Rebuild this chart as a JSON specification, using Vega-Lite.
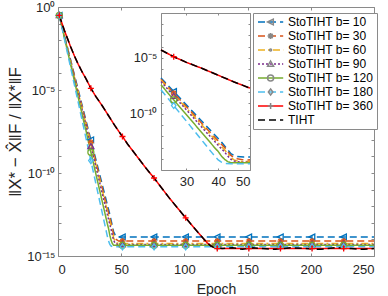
{
"$schema":"https://vega.github.io/schema/vega-lite/v6.json",
"width":316,"height":249,
"autosize":{"type":"none"},
"padding":{"left":58,"top":7,"right":14,"bottom":40},
"background":"white",
"config":{
 "font":"Liberation Sans",
 "view":{"stroke":"#8a8a8a","strokeWidth":1},
 "axis":{"grid":false,"labelFont":"Liberation Sans","titleFont":"Liberation Sans","labelFontSize":12.5,"titleFontSize":14,"titleFontWeight":"normal","labelColor":"#262626","titleColor":"#262626","tickColor":"#8a8a8a","domainColor":"#8a8a8a","tickSize":-3,"domain":false,"labelOverlap":false}
},
"datasets":{"d":[
{"series":"StoTIHT b= 10","epoch":1,"err":3.162e-1},{"series":"StoTIHT b= 10","epoch":6,"err":1e-2},{"series":"StoTIHT b= 10","epoch":11,"err":3.162e-4},{"series":"StoTIHT b= 10","epoch":16,"err":1e-5},{"series":"StoTIHT b= 10","epoch":21,"err":3.162e-7},{"series":"StoTIHT b= 10","epoch":22,"err":1.585e-7},{"series":"StoTIHT b= 10","epoch":26,"err":1e-8},{"series":"StoTIHT b= 10","epoch":31,"err":3.162e-10},{"series":"StoTIHT b= 10","epoch":36,"err":1e-11},{"series":"StoTIHT b= 10","epoch":40,"err":6.310e-13},{"series":"StoTIHT b= 10","epoch":41,"err":3.162e-13},{"series":"StoTIHT b= 10","epoch":43,"err":6.310e-14},{"series":"StoTIHT b= 10","epoch":44,"err":2.818e-14},{"series":"StoTIHT b= 10","epoch":45,"err":1.995e-14},{"series":"StoTIHT b= 10","epoch":46,"err":1.585e-14},{"series":"StoTIHT b= 10","epoch":48,"err":1.413e-14},{"series":"StoTIHT b= 10","epoch":50,"err":1.413e-14},{"series":"StoTIHT b= 10","epoch":51,"err":1.413e-14},{"series":"StoTIHT b= 10","epoch":76,"err":1.413e-14},{"series":"StoTIHT b= 10","epoch":101,"err":1.413e-14},{"series":"StoTIHT b= 10","epoch":126,"err":1.413e-14},{"series":"StoTIHT b= 10","epoch":151,"err":1.413e-14},{"series":"StoTIHT b= 10","epoch":176,"err":1.413e-14},{"series":"StoTIHT b= 10","epoch":201,"err":1.413e-14},{"series":"StoTIHT b= 10","epoch":226,"err":1.413e-14},{"series":"StoTIHT b= 10","epoch":250,"err":1.413e-14},
{"series":"StoTIHT b= 30","epoch":1,"err":3.162e-1},{"series":"StoTIHT b= 30","epoch":6,"err":8.913e-3},{"series":"StoTIHT b= 30","epoch":11,"err":2.818e-4},{"series":"StoTIHT b= 30","epoch":16,"err":7.943e-6},{"series":"StoTIHT b= 30","epoch":21,"err":2.512e-7},{"series":"StoTIHT b= 30","epoch":22,"err":1.259e-7},{"series":"StoTIHT b= 30","epoch":26,"err":7.079e-9},{"series":"StoTIHT b= 30","epoch":31,"err":2.239e-10},{"series":"StoTIHT b= 30","epoch":36,"err":6.310e-12},{"series":"StoTIHT b= 30","epoch":40,"err":3.981e-13},{"series":"StoTIHT b= 30","epoch":42,"err":1e-13},{"series":"StoTIHT b= 30","epoch":43,"err":4.467e-14},{"series":"StoTIHT b= 30","epoch":44,"err":1.995e-14},{"series":"StoTIHT b= 30","epoch":45,"err":1.259e-14},{"series":"StoTIHT b= 30","epoch":46,"err":1e-14},{"series":"StoTIHT b= 30","epoch":48,"err":7.943e-15},{"series":"StoTIHT b= 30","epoch":50,"err":7.943e-15},{"series":"StoTIHT b= 30","epoch":51,"err":7.943e-15},{"series":"StoTIHT b= 30","epoch":76,"err":7.943e-15},{"series":"StoTIHT b= 30","epoch":101,"err":7.943e-15},{"series":"StoTIHT b= 30","epoch":126,"err":7.943e-15},{"series":"StoTIHT b= 30","epoch":151,"err":7.943e-15},{"series":"StoTIHT b= 30","epoch":176,"err":7.943e-15},{"series":"StoTIHT b= 30","epoch":201,"err":7.943e-15},{"series":"StoTIHT b= 30","epoch":226,"err":7.943e-15},{"series":"StoTIHT b= 30","epoch":250,"err":7.943e-15},
{"series":"StoTIHT b= 60","epoch":1,"err":3.162e-1},{"series":"StoTIHT b= 60","epoch":6,"err":8.913e-3},{"series":"StoTIHT b= 60","epoch":11,"err":2.512e-4},{"series":"StoTIHT b= 60","epoch":16,"err":7.079e-6},{"series":"StoTIHT b= 60","epoch":21,"err":1.995e-7},{"series":"StoTIHT b= 60","epoch":22,"err":1e-7},{"series":"StoTIHT b= 60","epoch":26,"err":5.623e-9},{"series":"StoTIHT b= 60","epoch":31,"err":1.585e-10},{"series":"StoTIHT b= 60","epoch":36,"err":4.467e-12},{"series":"StoTIHT b= 60","epoch":40,"err":2.512e-13},{"series":"StoTIHT b= 60","epoch":42,"err":6.310e-14},{"series":"StoTIHT b= 60","epoch":43,"err":2.818e-14},{"series":"StoTIHT b= 60","epoch":44,"err":1.259e-14},{"series":"StoTIHT b= 60","epoch":45,"err":7.943e-15},{"series":"StoTIHT b= 60","epoch":46,"err":6.310e-15},{"series":"StoTIHT b= 60","epoch":48,"err":5.623e-15},{"series":"StoTIHT b= 60","epoch":50,"err":5.623e-15},{"series":"StoTIHT b= 60","epoch":51,"err":5.623e-15},{"series":"StoTIHT b= 60","epoch":76,"err":5.623e-15},{"series":"StoTIHT b= 60","epoch":101,"err":5.623e-15},{"series":"StoTIHT b= 60","epoch":126,"err":5.623e-15},{"series":"StoTIHT b= 60","epoch":151,"err":5.623e-15},{"series":"StoTIHT b= 60","epoch":176,"err":5.623e-15},{"series":"StoTIHT b= 60","epoch":201,"err":5.623e-15},{"series":"StoTIHT b= 60","epoch":226,"err":5.623e-15},{"series":"StoTIHT b= 60","epoch":250,"err":5.623e-15},
{"series":"StoTIHT b= 90","epoch":1,"err":3.162e-1},{"series":"StoTIHT b= 90","epoch":6,"err":7.943e-3},{"series":"StoTIHT b= 90","epoch":11,"err":2.239e-4},{"series":"StoTIHT b= 90","epoch":16,"err":5.623e-6},{"series":"StoTIHT b= 90","epoch":21,"err":1.585e-7},{"series":"StoTIHT b= 90","epoch":22,"err":7.943e-8},{"series":"StoTIHT b= 90","epoch":26,"err":3.981e-9},{"series":"StoTIHT b= 90","epoch":31,"err":1.122e-10},{"series":"StoTIHT b= 90","epoch":36,"err":2.818e-12},{"series":"StoTIHT b= 90","epoch":40,"err":1.585e-13},{"series":"StoTIHT b= 90","epoch":41,"err":7.943e-14},{"series":"StoTIHT b= 90","epoch":42,"err":3.981e-14},{"series":"StoTIHT b= 90","epoch":43,"err":1.778e-14},{"series":"StoTIHT b= 90","epoch":44,"err":8.913e-15},{"series":"StoTIHT b= 90","epoch":45,"err":6.310e-15},{"series":"StoTIHT b= 90","epoch":47,"err":5.012e-15},{"series":"StoTIHT b= 90","epoch":50,"err":5.012e-15},{"series":"StoTIHT b= 90","epoch":51,"err":5.012e-15},{"series":"StoTIHT b= 90","epoch":76,"err":5.012e-15},{"series":"StoTIHT b= 90","epoch":101,"err":5.012e-15},{"series":"StoTIHT b= 90","epoch":126,"err":5.012e-15},{"series":"StoTIHT b= 90","epoch":151,"err":5.012e-15},{"series":"StoTIHT b= 90","epoch":176,"err":5.012e-15},{"series":"StoTIHT b= 90","epoch":201,"err":5.012e-15},{"series":"StoTIHT b= 90","epoch":226,"err":5.012e-15},{"series":"StoTIHT b= 90","epoch":250,"err":5.012e-15},
{"series":"StoTIHT b= 120","epoch":1,"err":3.162e-1},{"series":"StoTIHT b= 120","epoch":6,"err":7.079e-3},{"series":"StoTIHT b= 120","epoch":11,"err":1.585e-4},{"series":"StoTIHT b= 120","epoch":16,"err":3.548e-6},{"series":"StoTIHT b= 120","epoch":21,"err":7.943e-8},{"series":"StoTIHT b= 120","epoch":22,"err":3.981e-8},{"series":"StoTIHT b= 120","epoch":26,"err":1.778e-9},{"series":"StoTIHT b= 120","epoch":31,"err":3.981e-11},{"series":"StoTIHT b= 120","epoch":36,"err":8.913e-13},{"series":"StoTIHT b= 120","epoch":39,"err":8.913e-14},{"series":"StoTIHT b= 120","epoch":40,"err":4.467e-14},{"series":"StoTIHT b= 120","epoch":41,"err":1.778e-14},{"series":"StoTIHT b= 120","epoch":42,"err":8.913e-15},{"series":"StoTIHT b= 120","epoch":43,"err":5.623e-15},{"series":"StoTIHT b= 120","epoch":44,"err":4.467e-15},{"series":"StoTIHT b= 120","epoch":50,"err":4.467e-15},{"series":"StoTIHT b= 120","epoch":51,"err":4.467e-15},{"series":"StoTIHT b= 120","epoch":76,"err":4.467e-15},{"series":"StoTIHT b= 120","epoch":101,"err":4.467e-15},{"series":"StoTIHT b= 120","epoch":126,"err":4.467e-15},{"series":"StoTIHT b= 120","epoch":151,"err":4.467e-15},{"series":"StoTIHT b= 120","epoch":176,"err":4.467e-15},{"series":"StoTIHT b= 120","epoch":201,"err":4.467e-15},{"series":"StoTIHT b= 120","epoch":226,"err":4.467e-15},{"series":"StoTIHT b= 120","epoch":250,"err":4.467e-15},
{"series":"StoTIHT b= 180","epoch":1,"err":3.162e-1},{"series":"StoTIHT b= 180","epoch":6,"err":5.623e-3},{"series":"StoTIHT b= 180","epoch":11,"err":1e-4},{"series":"StoTIHT b= 180","epoch":16,"err":1.778e-6},{"series":"StoTIHT b= 180","epoch":21,"err":3.162e-8},{"series":"StoTIHT b= 180","epoch":22,"err":1.413e-8},{"series":"StoTIHT b= 180","epoch":26,"err":5.623e-10},{"series":"StoTIHT b= 180","epoch":31,"err":1e-11},{"series":"StoTIHT b= 180","epoch":35,"err":3.981e-13},{"series":"StoTIHT b= 180","epoch":37,"err":7.943e-14},{"series":"StoTIHT b= 180","epoch":38,"err":3.548e-14},{"series":"StoTIHT b= 180","epoch":39,"err":1.585e-14},{"series":"StoTIHT b= 180","epoch":40,"err":7.943e-15},{"series":"StoTIHT b= 180","epoch":41,"err":5.012e-15},{"series":"StoTIHT b= 180","epoch":42,"err":3.981e-15},{"series":"StoTIHT b= 180","epoch":44,"err":3.548e-15},{"series":"StoTIHT b= 180","epoch":50,"err":3.548e-15},{"series":"StoTIHT b= 180","epoch":51,"err":3.548e-15},{"series":"StoTIHT b= 180","epoch":76,"err":3.548e-15},{"series":"StoTIHT b= 180","epoch":101,"err":3.548e-15},{"series":"StoTIHT b= 180","epoch":126,"err":3.548e-15},{"series":"StoTIHT b= 180","epoch":151,"err":3.548e-15},{"series":"StoTIHT b= 180","epoch":176,"err":3.548e-15},{"series":"StoTIHT b= 180","epoch":201,"err":3.548e-15},{"series":"StoTIHT b= 180","epoch":226,"err":3.548e-15},{"series":"StoTIHT b= 180","epoch":250,"err":3.548e-15},
{"series":"StoTIHT b= 360","epoch":1,"err":3.162e-1},{"series":"StoTIHT b= 360","epoch":3,"err":1.122e-1},{"series":"StoTIHT b= 360","epoch":5,"err":3.981e-2},{"series":"StoTIHT b= 360","epoch":7,"err":1.585e-2},{"series":"StoTIHT b= 360","epoch":10,"err":3.981e-3},{"series":"StoTIHT b= 360","epoch":13,"err":1.122e-3},{"series":"StoTIHT b= 360","epoch":16,"err":3.548e-4},{"series":"StoTIHT b= 360","epoch":19,"err":1.259e-4},{"series":"StoTIHT b= 360","epoch":22,"err":5.012e-5},{"series":"StoTIHT b= 360","epoch":26,"err":1.259e-5},{"series":"StoTIHT b= 360","epoch":30,"err":3.981e-6},{"series":"StoTIHT b= 360","epoch":35,"err":1.122e-6},{"series":"StoTIHT b= 360","epoch":40,"err":2.818e-7},{"series":"StoTIHT b= 360","epoch":45,"err":7.079e-8},{"series":"StoTIHT b= 360","epoch":50,"err":1.995e-8},{"series":"StoTIHT b= 360","epoch":51,"err":1.585e-8},{"series":"StoTIHT b= 360","epoch":55,"err":5.623e-9},{"series":"StoTIHT b= 360","epoch":60,"err":1.778e-9},{"series":"StoTIHT b= 360","epoch":65,"err":5.623e-10},{"series":"StoTIHT b= 360","epoch":70,"err":1.778e-10},{"series":"StoTIHT b= 360","epoch":76,"err":5.012e-11},{"series":"StoTIHT b= 360","epoch":82,"err":1.259e-11},{"series":"StoTIHT b= 360","epoch":88,"err":3.162e-12},{"series":"StoTIHT b= 360","epoch":95,"err":7.079e-13},{"series":"StoTIHT b= 360","epoch":101,"err":1.995e-13},{"series":"StoTIHT b= 360","epoch":106,"err":7.079e-14},{"series":"StoTIHT b= 360","epoch":111,"err":2.512e-14},{"series":"StoTIHT b= 360","epoch":115,"err":1.122e-14},{"series":"StoTIHT b= 360","epoch":118,"err":6.310e-15},{"series":"StoTIHT b= 360","epoch":121,"err":3.981e-15},{"series":"StoTIHT b= 360","epoch":124,"err":3.162e-15},{"series":"StoTIHT b= 360","epoch":126,"err":2.818e-15},{"series":"StoTIHT b= 360","epoch":151,"err":2.818e-15},{"series":"StoTIHT b= 360","epoch":176,"err":2.818e-15},{"series":"StoTIHT b= 360","epoch":201,"err":2.818e-15},{"series":"StoTIHT b= 360","epoch":226,"err":2.818e-15},{"series":"StoTIHT b= 360","epoch":250,"err":2.818e-15},
{"series":"TIHT","epoch":1,"err":3.162e-1},{"series":"TIHT","epoch":3,"err":1.122e-1},{"series":"TIHT","epoch":5,"err":3.981e-2},{"series":"TIHT","epoch":7,"err":1.585e-2},{"series":"TIHT","epoch":10,"err":3.981e-3},{"series":"TIHT","epoch":13,"err":1.122e-3},{"series":"TIHT","epoch":16,"err":3.548e-4},{"series":"TIHT","epoch":19,"err":1.259e-4},{"series":"TIHT","epoch":22,"err":5.012e-5},{"series":"TIHT","epoch":26,"err":1.259e-5},{"series":"TIHT","epoch":30,"err":3.981e-6},{"series":"TIHT","epoch":35,"err":1.122e-6},{"series":"TIHT","epoch":40,"err":2.818e-7},{"series":"TIHT","epoch":45,"err":7.079e-8},{"series":"TIHT","epoch":50,"err":1.995e-8},{"series":"TIHT","epoch":55,"err":5.623e-9},{"series":"TIHT","epoch":60,"err":1.778e-9},{"series":"TIHT","epoch":65,"err":5.623e-10},{"series":"TIHT","epoch":70,"err":1.778e-10},{"series":"TIHT","epoch":76,"err":5.012e-11},{"series":"TIHT","epoch":82,"err":1.259e-11},{"series":"TIHT","epoch":88,"err":3.162e-12},{"series":"TIHT","epoch":95,"err":7.079e-13},{"series":"TIHT","epoch":101,"err":1.995e-13},{"series":"TIHT","epoch":106,"err":7.079e-14},{"series":"TIHT","epoch":111,"err":2.512e-14},{"series":"TIHT","epoch":115,"err":1.122e-14},{"series":"TIHT","epoch":118,"err":6.310e-15},{"series":"TIHT","epoch":121,"err":3.981e-15},{"series":"TIHT","epoch":124,"err":3.162e-15},{"series":"TIHT","epoch":130,"err":2.818e-15},{"series":"TIHT","epoch":138,"err":3.162e-15},{"series":"TIHT","epoch":146,"err":2.512e-15},{"series":"TIHT","epoch":154,"err":3.162e-15},{"series":"TIHT","epoch":162,"err":2.818e-15},{"series":"TIHT","epoch":172,"err":2.512e-15},{"series":"TIHT","epoch":184,"err":3.162e-15},{"series":"TIHT","epoch":196,"err":2.818e-15},{"series":"TIHT","epoch":208,"err":2.512e-15},{"series":"TIHT","epoch":220,"err":3.162e-15},{"series":"TIHT","epoch":232,"err":2.818e-15},{"series":"TIHT","epoch":242,"err":2.512e-15},{"series":"TIHT","epoch":250,"err":2.818e-15}
]},
"data":{"name":"d"},
"layer":[
 {
  "layer":[
   {"transform":[{"filter":"datum.series != 'TIHT'"}],
    "mark":{"type":"line","strokeWidth":1.5},
    "encoding":{
     "x":{"field":"epoch","type":"quantitative","scale":{"domain":[0,250],"nice":false,"zero":false},
          "axis":{"orient":"bottom","values":[0,50,100,150,200,250],"title":"Epoch","labelPadding":10,"titlePadding":6,"titleFontSize":14,"labelFontSize":13}},
     "y":{"field":"err","type":"quantitative","scale":{"type":"log","domain":[1e-15,1],"nice":false},
          "axis":{"orient":"left","values":[1e-15,1e-14,1e-13,1e-12,1e-11,1e-10,1e-9,1e-8,1e-7,1e-6,1e-5,1e-4,1e-3,1e-2,1e-1,1],
                  "labelExpr":"round(log(datum.value)/LN10) == 0 ? '10⁰' : round(log(datum.value)/LN10) == -5 ? '10⁻⁵' : round(log(datum.value)/LN10) == -10 ? '10⁻¹⁰' : round(log(datum.value)/LN10) == -15 ? '10⁻¹⁵' : ''",
                  "title":"‖X* − X̂‖F / ‖X*‖F","titleFontSize":17,"labelPadding":6,"titlePadding":2,"labelFontSize":13}},
     "color":{"field":"series","type":"nominal",
       "scale":{"domain":["StoTIHT b= 10","StoTIHT b= 30","StoTIHT b= 60","StoTIHT b= 90","StoTIHT b= 120","StoTIHT b= 180","StoTIHT b= 360","TIHT"],
                "range":["#0072BD","#D95319","#EDB120","#7E2F8E","#77AC30","#4DBEEE","#FF0000","#000000"]},
       "legend":{"title":null,"orient":"none","legendX":195,"legendY":6,"symbolType":"M-4.2,0L4.2,0","symbolSize":36,"symbolStrokeWidth":1.5,"symbolFillColor":"transparent","labelFontSize":12,"labelFont":"Liberation Sans","labelColor":"#000000","padding":3,"rowPadding":2,"symbolOffset":8.6,"labelOffset":11.4,"strokeColor":"#8a8a8a","fillColor":"white","labelLimit":200}},
     "strokeDash":{"field":"series","type":"nominal",
       "scale":{"domain":["StoTIHT b= 10","StoTIHT b= 30","StoTIHT b= 60","StoTIHT b= 90","StoTIHT b= 120","StoTIHT b= 180","StoTIHT b= 360","TIHT"],
                "range":[[7,4],[7,4],[7,3,2,3],[2,2],[1,0],[7,4],[1,0],[7,4]]},
       "legend":{"title":null,"orient":"none","legendX":195,"legendY":6,"symbolType":"M-4.2,0L4.2,0","symbolSize":36,"symbolStrokeWidth":1.5,"symbolFillColor":"transparent","labelFontSize":12,"labelFont":"Liberation Sans","labelColor":"#000000","padding":3,"rowPadding":2,"symbolOffset":8.6,"labelOffset":11.4,"strokeColor":"#8a8a8a","fillColor":"white","labelLimit":200}}
    }},
   {"transform":[{"filter":"datum.series == 'TIHT'"}],
    "mark":{"type":"line","strokeWidth":1.5},
    "encoding":{
     "x":{"field":"epoch","type":"quantitative","axis":{"orient":"top","values":[0,50,100,150,200,250],"labels":false,"title":null}},
     "y":{"field":"err","type":"quantitative","axis":{"orient":"right","values":[1e-15,1e-14,1e-13,1e-12,1e-11,1e-10,1e-9,1e-8,1e-7,1e-6,1e-5,1e-4,1e-3,1e-2,1e-1,1],"labels":false,"title":null}},
     "color":{"field":"series","type":"nominal"},
     "strokeDash":{"field":"series","type":"nominal"}
    }},
   {"transform":[{"filter":"datum.series != 'TIHT' && (datum.epoch - 1) % 25 == 0"}],
    "mark":{"type":"point","filled":false,"strokeWidth":1.3,"size":36,"opacity":1},
    "encoding":{
     "x":{"field":"epoch","type":"quantitative","axis":null},
     "y":{"field":"err","type":"quantitative","axis":null},
     "color":{"field":"series","type":"nominal"},
     "shape":{"field":"series","type":"nominal",
       "scale":{"domain":["StoTIHT b= 10","StoTIHT b= 30","StoTIHT b= 60","StoTIHT b= 90","StoTIHT b= 120","StoTIHT b= 180","StoTIHT b= 360"],
                "range":["M-1,0L0.9,-0.95L0.9,0.95Z","M-1,0L1,0M0,-1L0,1M-0.7,-0.7L0.7,0.7M-0.7,0.7L0.7,-0.7","M-0.35,0A0.35,0.35,0,1,0,0.35,0A0.35,0.35,0,1,0,-0.35,0Z","M0,-1L1,0.75L-1,0.75Z","circle","M0,-1L0.75,0L0,1L-0.75,0Z","M-1,0L1,0M0,-1L0,1"]},
       "legend":{"title":null,"orient":"none","legendX":195,"legendY":6,"symbolSize":36,"symbolStrokeWidth":1.5,"symbolFillColor":"transparent","labelFontSize":12,"labelFont":"Liberation Sans","labelOpacity":0,"padding":3,"rowPadding":2,"symbolOffset":8.6,"labelOffset":11.4,"labelLimit":200,
                 "encode":{"symbols":{"update":{"stroke":{"scale":"color","field":"value"}}}}}}
    }}
  ],
  "resolve":{"axis":{"x":"independent","y":"independent"}}
 },
 {
  "transform":[{"filter":"datum.epoch >= 22 && datum.epoch <= 50"}],
  "layer":[
   {"transform":[{"filter":"datum.series != 'TIHT'"}],
    "mark":{"type":"line","strokeWidth":1.5},
    "encoding":{
     "x":{"field":"epoch","type":"quantitative","scale":{"domain":[22,50],"range":[103,192],"nice":false,"zero":false},
          "axis":{"orient":"bottom","offset":-86,"values":[30,40,50],"title":null,"domain":true,"tickSize":-2,"labelPadding":7,"labelFontSize":13}},
     "y":{"field":"err","type":"quantitative","scale":{"type":"log","domain":[1e-15,1e-1],"range":[163,6],"nice":false},
          "axis":{"orient":"left","offset":-103,"values":[1e-15,1e-14,1e-13,1e-12,1e-11,1e-10,1e-9,1e-8,1e-7,1e-6,1e-5,1e-4,1e-3,1e-2,1e-1],
                  "labelExpr":"round(log(datum.value)/LN10) == -5 ? '10⁻⁵' : round(log(datum.value)/LN10) == -10 ? '10⁻¹⁰' : ''",
                  "title":null,"domain":true,"tickSize":-2,"labelPadding":6,"labelFontSize":13}},
     "color":{"field":"series","type":"nominal"},
     "strokeDash":{"field":"series","type":"nominal"}
    }},
   {"transform":[{"filter":"datum.series == 'TIHT'"}],
    "mark":{"type":"line","strokeWidth":1.5},
    "encoding":{
     "x":{"field":"epoch","type":"quantitative","axis":{"orient":"top","offset":-6,"values":[30,40,50],"labels":false,"title":null,"domain":true,"tickSize":-2}},
     "y":{"field":"err","type":"quantitative","axis":{"orient":"right","offset":-124,"values":[1e-15,1e-14,1e-13,1e-12,1e-11,1e-10,1e-9,1e-8,1e-7,1e-6,1e-5,1e-4,1e-3,1e-2,1e-1],"labels":false,"title":null,"domain":true,"tickSize":-2}},
     "color":{"field":"series","type":"nominal"},
     "strokeDash":{"field":"series","type":"nominal"}
    }},
   {"transform":[{"filter":"datum.series != 'TIHT' && (datum.epoch - 1) % 25 == 0"}],
    "mark":{"type":"point","filled":false,"strokeWidth":1.3,"size":36,"opacity":1},
    "encoding":{
     "x":{"field":"epoch","type":"quantitative","axis":null},
     "y":{"field":"err","type":"quantitative","axis":null},
     "color":{"field":"series","type":"nominal"},
     "shape":{"field":"series","type":"nominal"}
    }}
  ],
  "resolve":{"axis":{"x":"independent","y":"independent"}}
 }
],
"resolve":{"scale":{"x":"independent","y":"independent"},"axis":{"x":"independent","y":"independent"}}
}
